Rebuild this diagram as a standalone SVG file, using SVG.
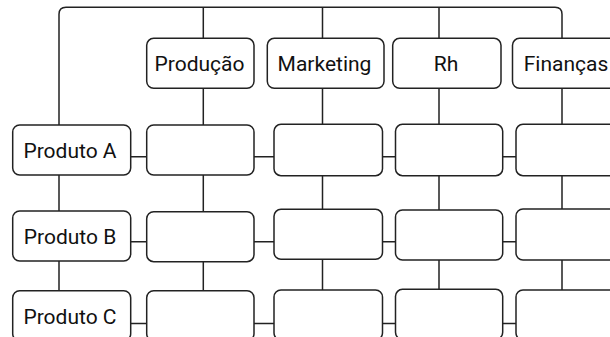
<svg xmlns="http://www.w3.org/2000/svg" width="610" height="337" viewBox="0 0 610 337">
<style>
.box{fill:#fff;stroke:#222;stroke-width:1.5}
.ln{fill:none;stroke:#222;stroke-width:1.5}
text{font-family:Roboto,"Liberation Sans",sans-serif;font-size:21px;fill:#111;text-anchor:middle}
</style>
<rect width="610" height="337" fill="#fff"/>
<g id="connectors">
<path class="ln" d="M59,125 V14.3 Q59,7.3 66,7.3 H555 Q562,7.3 562,14.3 V38.3"/>
<path class="ln" d="M203.3,7.3 V38.3 M322.5,7.3 V38.3 M439,7.3 V38.3"/>
<path class="ln" d="M203.3,88.3 V125 M322.5,88.3 V124.3 M439,88.3 V124.3 M562,88.3 V124.3"/>
<path class="ln" d="M59,175 V211 M59,261 V290.7"/>
<path class="ln" d="M203.3,175 V211.7 M203.3,261.7 V290.7"/>
<path class="ln" d="M322.5,175.7 V209.3 M322.5,259.3 V290"/>
<path class="ln" d="M439,175.7 V210 M439,260 V289.3"/>
<path class="ln" d="M562,175.7 V209 M562,260 V290"/>
<path class="ln" d="M130.7,156.7 H146.7 M254,156.7 H274 M382.5,156.7 H395.5 M502.7,156.7 H516"/>
<path class="ln" d="M130.7,241.7 H146.7 M254,241.7 H274 M382.5,241.7 H395.5 M502.7,241.7 H516"/>
<path class="ln" d="M130.7,323.5 H146.7 M254,323.5 H274 M382.5,323.5 H395.5 M502.7,323.5 H516"/>
</g>
<g id="producao"><rect class="box" x="146.7" y="38.3" width="107.3" height="50" rx="7"/><text x="199.5" y="71">Produção</text></g>
<g id="marketing"><rect class="box" x="267.3" y="38.3" width="116.7" height="50" rx="7"/><text x="324.5" y="71">Marketing</text></g>
<g id="rh"><rect class="box" x="392.7" y="38.3" width="108.3" height="50" rx="7"/><text x="446" y="71">Rh</text></g>
<g id="financas"><rect class="box" x="512.5" y="38.3" width="107" height="50" rx="7"/><text x="566" y="71">Finanças</text></g>
<g id="produtoA"><rect class="box" x="12.7" y="125" width="118" height="50" rx="7"/><text x="70" y="158">Produto A</text></g>
<g id="produtoB"><rect class="box" x="12.7" y="211" width="118" height="50" rx="7"/><text x="70" y="244">Produto B</text></g>
<g id="produtoC"><rect class="box" x="12.7" y="290.7" width="118" height="50" rx="7"/><text x="70" y="324">Produto C</text></g>
<g id="cellA1"><rect class="box" x="146.7" y="125" width="107.3" height="50" rx="7"/></g>
<g id="cellA2"><rect class="box" x="274" y="124.3" width="108.5" height="51.4" rx="7"/></g>
<g id="cellA3"><rect class="box" x="395.5" y="124.3" width="107.2" height="51.4" rx="7"/></g>
<g id="cellA4"><rect class="box" x="516" y="124.3" width="108" height="51.4" rx="7"/></g>
<g id="cellB1"><rect class="box" x="146.7" y="211.7" width="107.3" height="50" rx="7"/></g>
<g id="cellB2"><rect class="box" x="274" y="209.3" width="108.5" height="50" rx="7"/></g>
<g id="cellB3"><rect class="box" x="395.5" y="210" width="107.2" height="50" rx="7"/></g>
<g id="cellB4"><rect class="box" x="516" y="209" width="108" height="51" rx="7"/></g>
<g id="cellC1"><rect class="box" x="146.7" y="290.7" width="107.3" height="50" rx="7"/></g>
<g id="cellC2"><rect class="box" x="274" y="290" width="108.5" height="50" rx="7"/></g>
<g id="cellC3"><rect class="box" x="395.5" y="289.3" width="107.2" height="50" rx="7"/></g>
<g id="cellC4"><rect class="box" x="516" y="290" width="108" height="50" rx="7"/></g>
</svg>
